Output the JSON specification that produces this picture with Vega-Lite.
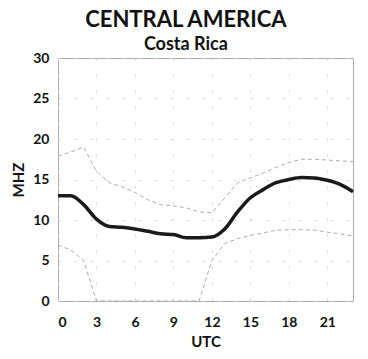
{
  "$schema": "https://vega.github.io/schema/vega-lite/v6.json",
  "width": 295,
  "height": 243,
  "padding": {"left": 11, "top": 9, "right": 10, "bottom": 2},
  "background": "white",
  "title": {
    "text": "CENTRAL AMERICA",
    "subtitle": "Costa Rica",
    "font": "Lato",
    "fontSize": 22,
    "fontWeight": "bold",
    "color": "#111",
    "subtitleFont": "Lato",
    "subtitleFontSize": 18,
    "subtitleFontWeight": "bold",
    "subtitleColor": "#111",
    "subtitlePadding": 4,
    "anchor": "middle",
    "frame": "bounds",
    "offset": -4
  },
  "datasets": {
    "muf": [
      {"utc": 0, "median": 13.0, "upper": 17.9, "lower": 6.9},
      {"utc": 1, "median": 13.0, "upper": 18.4, "lower": 6.3},
      {"utc": 2, "median": 11.9, "upper": 19.0, "lower": 5.0},
      {"utc": 3, "median": 10.1, "upper": 16.0, "lower": 0},
      {"utc": 4, "median": 9.2, "upper": 14.6, "lower": 0},
      {"utc": 5, "median": 9.1, "upper": 14.1, "lower": 0},
      {"utc": 6, "median": 8.9, "upper": 13.4, "lower": 0},
      {"utc": 7, "median": 8.6, "upper": 12.5, "lower": 0},
      {"utc": 8, "median": 8.3, "upper": 11.9, "lower": 0},
      {"utc": 9, "median": 8.2, "upper": 11.75, "lower": 0},
      {"utc": 10, "median": 7.8, "upper": 11.5, "lower": 0},
      {"utc": 11, "median": 7.8, "upper": 11.0, "lower": 0},
      {"utc": 12, "median": 7.9, "upper": 10.9, "lower": 5.0},
      {"utc": 13, "median": 8.9, "upper": 12.7, "lower": 7.1},
      {"utc": 14, "median": 11.0, "upper": 14.6, "lower": 7.7},
      {"utc": 15, "median": 12.75, "upper": 15.2, "lower": 8.1},
      {"utc": 16, "median": 13.75, "upper": 15.8, "lower": 8.4},
      {"utc": 17, "median": 14.6, "upper": 16.5, "lower": 8.75},
      {"utc": 18, "median": 15.0, "upper": 17.1, "lower": 8.8},
      {"utc": 19, "median": 15.25, "upper": 17.5, "lower": 8.8},
      {"utc": 20, "median": 15.2, "upper": 17.5, "lower": 8.75},
      {"utc": 21, "median": 14.9, "upper": 17.4, "lower": 8.5},
      {"utc": 22, "median": 14.4, "upper": 17.3, "lower": 8.3},
      {"utc": 23, "median": 13.5, "upper": 17.2, "lower": 8.0}
    ]
  },
  "data": {"name": "muf"},
  "encoding": {
    "x": {
      "field": "utc",
      "type": "quantitative",
      "scale": {"domain": [0, 23], "nice": false, "zero": false},
      "axis": {
        "title": "UTC",
        "values": [0, 3, 6, 9, 12, 15, 18, 21],
        "labelFont": "Lato",
        "labelFontSize": 14,
        "labelFontWeight": "bold",
        "labelColor": "#111",
        "labelPadding": 14,
        "titleFont": "Lato",
        "titleFontSize": 15,
        "titleFontWeight": "bold",
        "titleColor": "#111",
        "titlePadding": 5,
        "ticks": false,
        "domain": false,
        "grid": true,
        "gridColor": "#ccc",
        "gridDash": [2, 14],
        "gridWidth": 1
      }
    }
  },
  "layer": [
    {
      "mark": {"type": "line", "color": "#aaa", "strokeWidth": 1, "strokeDash": [4, 3]},
      "encoding": {
        "y": {
          "field": "upper",
          "type": "quantitative",
          "scale": {"domain": [0, 30], "nice": false},
          "axis": {
            "title": "MHZ",
            "values": [0, 5, 10, 15, 20, 25, 30],
            "labelFont": "Lato",
            "labelFontSize": 14,
            "labelFontWeight": "bold",
            "labelColor": "#111",
            "labelPadding": 9,
            "titleFont": "Lato",
            "titleFontSize": 15,
            "titleFontWeight": "bold",
            "titleColor": "#111",
            "titlePadding": 6,
            "ticks": false,
            "domain": false,
            "grid": true,
            "gridColor": "#ccc",
            "gridDash": [2, 14],
            "gridWidth": 1
          }
        }
      }
    },
    {
      "mark": {"type": "line", "color": "#aaa", "strokeWidth": 1, "strokeDash": [4, 3]},
      "encoding": {"y": {"field": "lower", "type": "quantitative"}}
    },
    {
      "mark": {"type": "line", "color": "#1a1a1a", "strokeWidth": 3.5, "interpolate": "monotone"},
      "encoding": {"y": {"field": "median", "type": "quantitative"}}
    }
  ],
  "config": {
    "view": {"stroke": "#aaa", "strokeWidth": 1}
  }
}
